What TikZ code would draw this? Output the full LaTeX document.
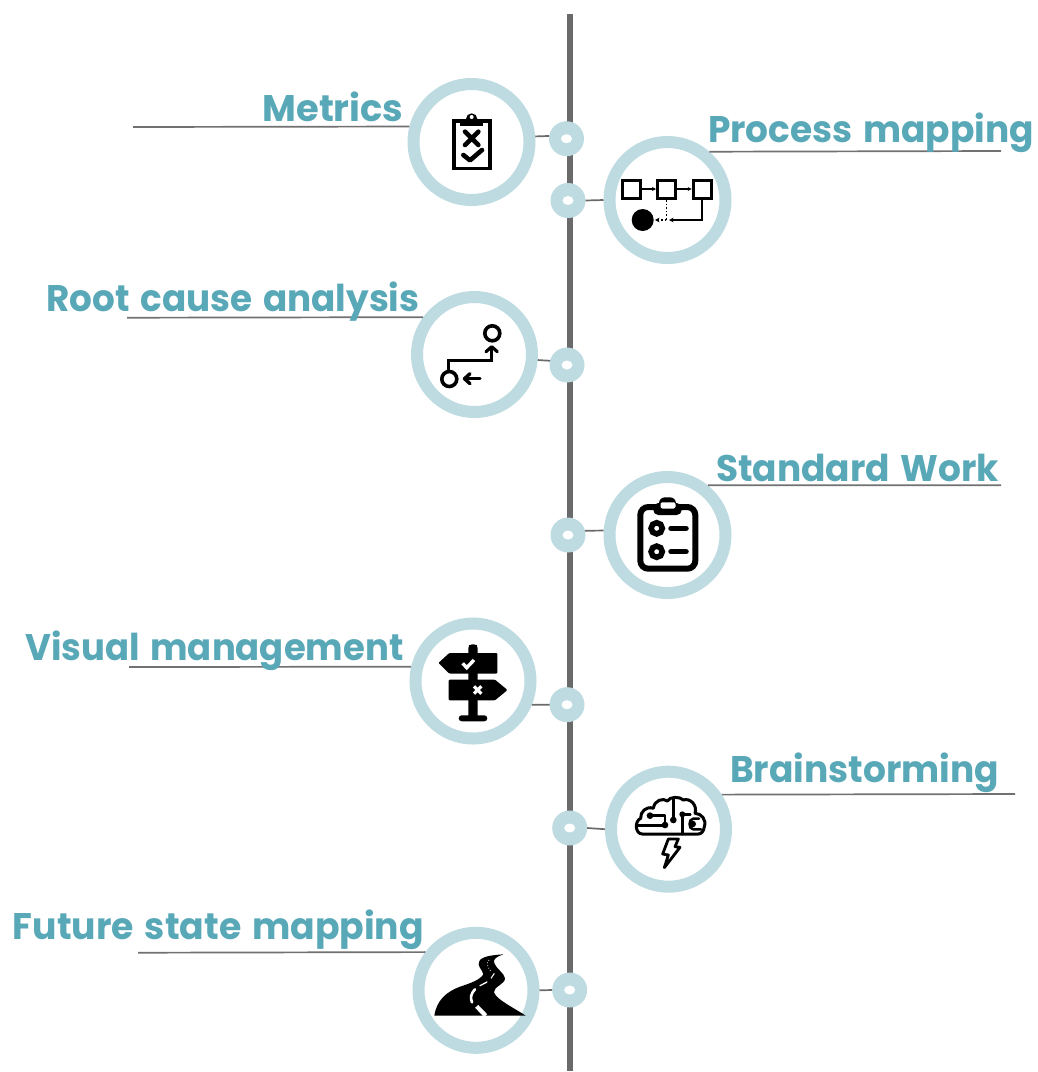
\documentclass[tikz,border=0pt]{standalone}
\usepackage{fontspec}
\setmainfont{Poppins}[WordSpace=1.4]
\usetikzlibrary{shapes.geometric,arrows.meta}
\definecolor{ringc}{HTML}{BDDBE1}
\definecolor{labc}{HTML}{58A8B8}
\definecolor{linec}{HTML}{6A6A6A}
\newcommand{\fitlab}[2]{\resizebox{#1pt}{\height}{\fontsize{37}{40}\selectfont\bfseries #2}}
\tikzset{
  ring/.style={circle,draw=ringc,line width=12pt,fill=white,inner sep=0pt,minimum size=116pt},
  ringsm/.style={ring,minimum size=115pt},
  dotnode/.style={circle,fill=ringc,inner sep=0pt,outer sep=0pt,minimum size=35pt},
  holenode/.style={ellipse,fill=white,inner sep=0pt,outer sep=0pt,minimum width=11pt,minimum height=9pt},
  labnode/.style={inner sep=0pt,outer sep=0pt,text=labc},
  spine/.style={draw=linec,line width=6pt},
  rule/.style={draw=linec!95!white,line width=1.7pt},
  link/.style={draw=linec,line width=1.7pt},
  zoomed/.style={x=0.33333pt,y=-0.33333pt},
  ink/.style={draw=black,line cap=round,line join=round},
  tinyarrow/.style={draw=black,line width=1.3pt,-{Stealth[length=4pt,width=4pt]}},
}
\begin{document}
\begin{tikzpicture}[x=1pt,y=-1pt]
\useasboundingbox (0,0) rectangle (1038,1072);
\fill[white] (0,0) rectangle (1038,1072);

% spine
\coordinate (spineTop) at (569.7,14);
\coordinate (spineBot) at (569.7,1071);
\path[spine] (spineTop) -- (spineBot);

% free ends of the rules
\coordinate (endM) at (133,127);
\coordinate (endP) at (1001,151);
\coordinate (endR) at (127,317.7);
\coordinate (endS) at (1001,485.3);
\coordinate (endV) at (129,667);
\coordinate (endB) at (1015,794);
\coordinate (endF) at (138,952.7);

% rings
\node[ring]   (ringM) at (471.5,142) {};
\node[ring]   (ringP) at (667.5,200) {};
\node[ringsm] (ringR) at (474.5,354.5) {};
\node[ring]   (ringS) at (667.5,535) {};
\node[ringsm] (ringV) at (473,681) {};
\node[ringsm] (ringB) at (668.5,829.2) {};
\node[ringsm] (ringF) at (476,990.3) {};

% dots
\node[dotnode] (dotM) at (566.5,138.7) {};
\node[dotnode] (dotP) at (568,200.5) {};
\node[dotnode] (dotR) at (567,365) {};
\node[dotnode] (dotS) at (568,535) {};
\node[dotnode] (dotV) at (567,704.7) {};
\node[dotnode] (dotB) at (569.7,828) {};
\node[dotnode] (dotF) at (569.7,990) {};
\node[holenode] (holeM) at (dotM) {};
\node[holenode] (holeP) at (dotP) {};
\node[holenode] (holeR) at (dotR) {};
\node[holenode] (holeS) at (dotS) {};
\node[holenode] (holeV) at (dotV) {};
\node[holenode] (holeB) at (dotB) {};
\node[holenode] (holeF) at (dotF) {};

% links ring-dot
\path[link] (ringM.5.4) -- (dotM.171.1);
\path[link] (dotP.east) -- (ringP.west);
\path[link] (ringR.-5.9) -- (dotR.166.8);
\path[link] (dotS.14.2) -- (ringS.176.2);
\path[link] (ringV.-22.2) -- (dotV.west);
\path[link] (dotB.east) -- (ringB.west);
\path[link] (ringF.east) -- (dotF.west);

% rules
\path[rule] (endM) -- (ringM.166.4);
\path[rule] (ringP.49.7) -- (endP);
\path[rule] (endR) -- (ringR.144.6);
\path[rule] (ringS.51) -- (endS);
\path[rule] (endV) -- (ringV.167.3);
\path[rule] (ringB.33.6) -- (endB);
\path[rule] (endF) -- (ringF.143.6);

% labels
\node[labnode,anchor=base east] (labM) at (403.5,121) {\fitlab{141}{Metrics}};
\node[labnode,anchor=base west] (labP) at (708,142.7) {\fitlab{326}{Process mapping}};
\node[labnode,anchor=base east] (labR) at (419.5,311.7) {\fitlab{373}{Root cause analysis}};
\node[labnode,anchor=base west] (labS) at (716,481.7) {\fitlab{283}{Standard Work}};
\node[labnode,anchor=base east] (labV) at (403.5,660.7) {\fitlab{378}{Visual management}};
\node[labnode,anchor=base west] (labB) at (730,782.3) {\fitlab{269}{Brainstorming}};
\node[labnode,anchor=base east] (labF) at (424,939.3) {\fitlab{411}{Future state mapping}};

% --- icon: metrics clipboard
\begin{scope}[shift={(440,110)},zoomed]
  \draw[draw=black,line width=3.6pt] (42,33) rectangle (150,175);
  \fill[black] (60,28) rectangle (130,48);
  \fill[black] (95,27) circle[radius=17];
  \fill[white] (95,21) circle[radius=6];
  \draw[ink,line width=4.6pt] (75,65) -- (115,105) (115,65) -- (75,105);
  \draw[ink,line width=4.6pt] (70,135) -- (90,151) -- (126,120);
\end{scope}

% --- icon: process map
\draw[draw=black,line width=3.2pt] (622.2,180.2) rectangle (640.2,198.5);
\draw[draw=black,line width=3.2pt] (657.5,180.2) rectangle (675.8,198.5);
\draw[draw=black,line width=3.2pt] (693.2,180.2) rectangle (711.2,198.5);
\draw[tinyarrow] (641.7,189) -- (656,189);
\draw[tinyarrow] (677.3,189) -- (691.7,189);
\fill[black] (642.7,220) circle[radius=11];
\draw[draw=black,line width=1.6pt,dotted] (666.3,200) -- (666.3,220);
\draw[draw=black,line width=1.6pt,dotted,-{Stealth[length=4.5pt,width=4.5pt]}] (666.3,220) -- (655,220);
\draw[draw=black,line width=1.7pt,-{Stealth[length=4.5pt,width=4.5pt]}] (702,200) -- (702,220) -- (669,220);

% --- icon: root cause
\draw[draw=black,line width=3.6pt] (492.3,333.3) circle[radius=7.5];
\draw[draw=black,line width=3.6pt] (449.3,379) circle[radius=7.5];
\draw[draw=black,line width=2.8pt] (448.3,371) -- (448.3,360.3) -- (491.7,360.3) -- (491.7,348);
\draw[ink,line width=3.2pt] (486,351.7) -- (491.7,346.7) -- (497.3,351.7);
\draw[ink,line width=3.4pt] (480,378.7) -- (464.5,378.7);
\draw[ink,line width=3.4pt] (470,373.7) -- (464.5,378.7) -- (470,383.7);

% --- icon: standard work
\draw[draw=black,line width=6pt,rounded corners=8pt] (640.3,507) rectangle (695.3,568.7);
\fill[black,rounded corners=5pt] (653.3,503) rectangle (681.7,515);
\fill[black,rounded corners=6pt] (659,497.3) rectangle (676,510);
\fill[white,rounded corners=2pt] (660.5,502.3) rectangle (675.5,508.5);
\draw[draw=black,line width=5.6pt] (656.7,528.3) circle[radius=5.6];
\draw[draw=black,line width=5.6pt] (656.7,551.7) circle[radius=5.6];
\draw[ink,line width=5.5pt] (671,528.3) -- (686,528.3);
\draw[ink,line width=5.5pt] (671,551.7) -- (686,551.7);

% --- icon: signpost
\fill[black,rounded corners=2pt] (468.3,718) -- (468.3,646) -- (470,644.3) -- (476,644.3) -- (477.7,646) -- (477.7,718) -- cycle;
\fill[black,rounded corners=3pt] (458.7,715.3) rectangle (487.3,721.3);
\fill[black,rounded corners=1pt] (438.5,662.9) -- (449.3,653) -- (497.3,653) -- (497.3,673.6) -- (449.3,673.6) -- cycle;
\fill[black,rounded corners=1pt] (448.7,679.7) -- (495,679.7) -- (507.5,690) -- (495,700.3) -- (448.7,700.3) -- cycle;
\draw[draw=white,line width=3.4pt] (462.7,663.3) -- (466.7,667.7) -- (474,660);
\draw[draw=white,line width=3.2pt] (474,686.3) -- (481.4,693.7) (481.4,686.3) -- (474,693.7);

% --- icon: brain
\begin{scope}[shift={(625,785)},zoomed]
  \draw[ink,line width=3pt] (52,147)
     .. controls (30,147) and (28,108) .. (47,100)
     .. controls (45,80) and (65,62) .. (85,70)
     .. controls (88,45) and (115,38) .. (127,48)
     .. controls (135,34) and (165,34) .. (175,45)
     .. controls (195,38) and (218,60) .. (210,85)
     .. controls (230,85) and (245,105) .. (238,125)
     .. controls (236,140) and (228,147) .. (220,147) -- cycle;
  \draw[ink,line width=2.6pt] (75,92) -- (120,92) -- (120,120) (38,121) -- (120,121);
  \draw[ink,line width=2.6pt] (145,42) -- (145,105);
  \draw[ink,line width=2.6pt] (172,88) -- (172,147);
  \draw[ink,line width=2.6pt] (172,88) -- (196,88);
  \draw[ink,line width=2.6pt] (222,101) -- (205,101) .. controls (190,101) and (190,133) .. (205,133) -- (228,133);
  \fill[black] (75,92) circle[radius=10];
  \fill[black] (120,120) circle[radius=10];
  \fill[black] (145,105) circle[radius=10];
  \fill[black] (172,88) circle[radius=9];
  \fill[black] (203,117) circle[radius=10];
  \draw[ink,line width=2.8pt] (130,162) -- (160,162) -- (150,185) -- (165,187) -- (118,248) -- (130,210) -- (113,207) -- cycle;
\end{scope}

% --- icon: road
\begin{scope}[shift={(425,945)},zoomed]
  \fill[black] (28,212)
     .. controls (35,165) and (65,140) .. (105,125)
     .. controls (135,115) and (165,105) .. (175,88)
     .. controls (172,72) and (155,65) .. (163,48)
     .. controls (172,33) and (205,30) .. (235,28)
     .. controls (215,35) and (203,42) .. (208,55)
     .. controls (215,72) and (238,85) .. (240,100)
     .. controls (240,118) and (205,125) .. (207,142)
     .. controls (215,165) and (270,190) .. (302,212) -- cycle;
  \draw[draw=white,line width=2.6pt,line cap=round] (150,133) .. controls (138,145) and (135,158) .. (141,172);
  \draw[draw=white,line width=4.2pt] (155,184) -- (182,212);
  \draw[draw=white,line width=1.3pt,line cap=round] (165,122) -- (186,111);
  \draw[draw=white,line width=1pt] (208,85) -- (198,100);
  \draw[draw=white,line width=0.8pt,dotted] (192,45) .. controls (182,55) and (190,70) .. (198,80);
\end{scope}
\end{tikzpicture}
\end{document}
